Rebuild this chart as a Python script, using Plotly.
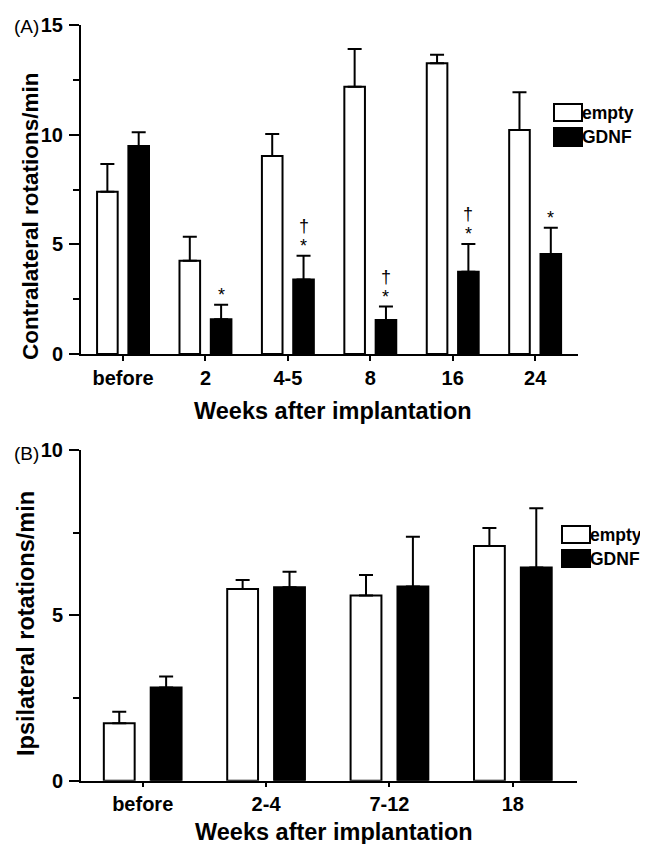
import plotly.graph_objects as go

# ---------------- data ----------------
cats_a = ["before", "2", "4-5", "8", "16", "24"]
empty_a = [7.40, 4.25, 9.03, 12.19, 13.26, 10.21]
empty_a_err = [1.26, 1.10, 1.00, 1.72, 0.38, 1.72]
gdnf_a = [9.48, 1.58, 3.40, 1.55, 3.75, 4.56]
gdnf_a_err = [0.63, 0.67, 1.08, 0.61, 1.26, 1.20]
star_a = ["", "*", "*", "*", "*", "*"]
dagger_a = ["", "", "†", "†", "†", ""]

cats_b = ["before", "2-4", "7-12", "18"]
empty_b = [1.735, 5.80, 5.60, 7.10]
empty_b_err = [0.35, 0.27, 0.62, 0.54]
gdnf_b = [2.82, 5.85, 5.87, 6.45]
gdnf_b_err = [0.33, 0.47, 1.51, 1.79]

series_names = ["empty", "GDNF"]
y_title_a = "Contralateral rotations/min"
y_title_b = "Ipsilateral rotations/min"
x_title = "Weeks after implantation"

# ---------------- style ----------------
PAGE_OFF = 8            # default body margin of the html page
W, H = 648 - PAGE_OFF, 844 - PAGE_OFF
FONT = "Liberation Sans, Arial, Helvetica, sans-serif"
BAR_W = 0.25
OFF_E = -0.315
OFF_G = 0.065


def px_x(p):
    return (p - PAGE_OFF) / W


def px_y(p):
    return 1 - (p - PAGE_OFF) / H


def bar(cats, vals, errs, fill, xa, ya, name, offset):
    return go.Bar(
        x=cats, y=vals, name=name, xaxis=xa, yaxis=ya,
        width=BAR_W, offset=offset,
        marker=dict(color=fill, line=dict(color="black", width=2)),
        error_y=dict(type="data", symmetric=False, array=errs,
                     arrayminus=[0] * len(errs), color="black",
                     thickness=2, width=7),
        showlegend=False,
    )


fig = go.Figure()
fig.add_trace(bar(cats_a, empty_a, empty_a_err, "white", "x", "y", series_names[0], OFF_E))
fig.add_trace(bar(cats_a, gdnf_a, gdnf_a_err, "black", "x", "y", series_names[1], OFF_G))
fig.add_trace(bar(cats_b, empty_b, empty_b_err, "white", "x2", "y2", series_names[0], OFF_E))
fig.add_trace(bar(cats_b, gdnf_b, gdnf_b_err, "black", "x2", "y2", series_names[1], OFF_G))

tickfont = dict(family=FONT, size=20, color="black", weight="bold")
xtickfont = dict(family=FONT, size=20, color="black", weight="bold")

common_x = dict(showline=True, linecolor="black", linewidth=2, ticks="outside",
                tickwidth=2, tickcolor="black", showgrid=False,
                zeroline=False, tickfont=xtickfont, automargin=False,
                type="category", fixedrange=True)
common_y = dict(showline=True, linecolor="black", linewidth=2, ticks="outside",
                ticklen=10, tickwidth=2, tickcolor="black", showgrid=False,
                zeroline=False, tickfont=tickfont, automargin=False,
                ticklabelstandoff=2,
                minor=dict(ticks="outside", ticklen=6, tickwidth=2,
                           tickcolor="black", dtick=2.5))

fig.update_layout(
    width=W, height=H,
    margin=dict(l=0, r=0, t=0, b=0),
    paper_bgcolor="white", plot_bgcolor="white",
    barmode="overlay",
    showlegend=False,
    xaxis=dict(domain=[px_x(81), px_x(578)], anchor="y", ticklen=5,
               range=[-0.51, 5.52], **common_x),
    yaxis=dict(domain=[px_y(354), px_y(25)], anchor="x",
               range=[0, 15], tickvals=[0, 5, 10, 15], **common_y),
    xaxis2=dict(domain=[px_x(81), px_x(577)], anchor="y2", ticklen=4,
                range=[-0.5, 3.52], **common_x),
    yaxis2=dict(domain=[px_y(780.7), px_y(450)], anchor="x2",
                range=[0, 10], tickvals=[0, 5, 10], **common_y),
)

ann = []
titlefont = dict(family=FONT, size=23.5, color="black", weight="bold")
# axis titles
ann.append(dict(text=y_title_a, textangle=-90, x=px_x(31), y=px_y(216),
                xanchor="center", yanchor="middle",
                xref="paper", yref="paper", showarrow=False,
                font=dict(family=FONT, size=22.5, color="black", weight="bold")))
ann.append(dict(text=y_title_b, textangle=-90, x=px_x(26), y=px_y(624),
                xanchor="center", yanchor="middle",
                xref="paper", yref="paper", showarrow=False,
                font=dict(family=FONT, size=23.5, color="black", weight="bold")))
ann.append(dict(text=x_title, x=px_x(333), y=px_y(411),
                xanchor="center", yanchor="middle",
                xref="paper", yref="paper", showarrow=False, font=titlefont))
ann.append(dict(text=x_title, x=px_x(334), y=px_y(832),
                xanchor="center", yanchor="middle",
                xref="paper", yref="paper", showarrow=False, font=titlefont))
# panel labels
plab = dict(family=FONT, size=19, color="black")
ann.append(dict(text="(A)", x=px_x(12), y=px_y(27), xanchor="left", yanchor="middle",
                xref="paper", yref="paper", showarrow=False, font=plab))
ann.append(dict(text="(B)", x=px_x(12), y=px_y(453), xanchor="left", yanchor="middle",
                xref="paper", yref="paper", showarrow=False, font=plab))

# significance marks (above GDNF error caps)
gd_center = OFF_G + BAR_W / 2
for i, c in enumerate(cats_a):
    top = gdnf_a[i] + gdnf_a_err[i]
    if star_a[i]:
        ann.append(dict(text=star_a[i], x=i + gd_center, y=top, xref="x", yref="y",
                        yanchor="bottom", yshift=-2, showarrow=False,
                        font=dict(family=FONT, size=18, color="black")))
    if dagger_a[i]:
        ann.append(dict(text=dagger_a[i], x=i + gd_center, y=top, xref="x", yref="y",
                        yanchor="bottom", yshift=18, showarrow=False,
                        font=dict(family=FONT, size=18, color="black")))

# legends
legfont = dict(family=FONT, size=17.5, color="black", weight="bold")
shapes = []
for (bx0, bx1, ys) in [(554, 582, [(104, 121), (128, 146)]),
                       (562, 590, [(526, 543), (550, 567)])]:
    for k, (y0, y1) in enumerate(ys):
        shapes.append(dict(type="rect", xref="paper", yref="paper",
                           x0=px_x(bx0), x1=px_x(bx1), y0=px_y(y1), y1=px_y(y0),
                           fillcolor="white" if k == 0 else "black",
                           line=dict(color="black", width=2)))
        ann.append(dict(text=series_names[k], x=px_x(bx1 - 2), y=px_y((y0 + y1) / 2),
                        xanchor="left", yanchor="middle", xref="paper", yref="paper",
                        showarrow=False, font=legfont))

fig.update_layout(annotations=ann, shapes=shapes)
fig.write_html("out.html")
